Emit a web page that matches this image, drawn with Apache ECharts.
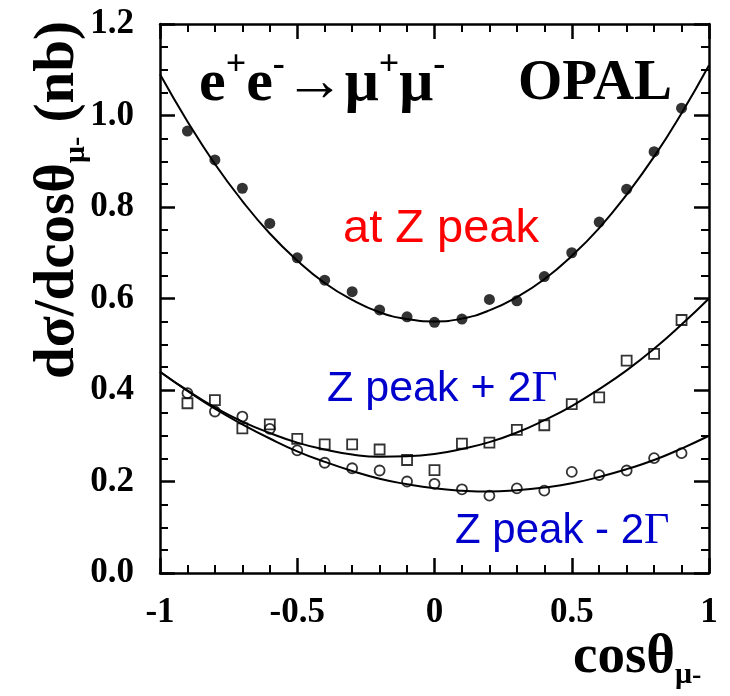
<!DOCTYPE html>
<html>
<head>
<meta charset="utf-8">
<script src="https://cdn.jsdelivr.net/npm/echarts@6/dist/echarts.min.js"></script>
<style>
  html,body{margin:0;padding:0;background:#fff;}
  #main{width:730px;height:696px;}
</style>
</head>
<body>
<div id="main"></div>
<script>
// measured points (cos theta bins)
var ptX = [-0.9,-0.8,-0.7,-0.6,-0.5,-0.4,-0.3,-0.2,-0.1,0,0.1,0.2,0.3,0.4,0.5,0.6,0.7,0.8,0.9];
var zPeak = [0.966,0.903,0.841,0.764,0.689,0.640,0.615,0.575,0.560,0.548,0.555,0.598,0.595,0.648,0.700,0.767,0.839,0.921,1.016];
var zPlus = [0.371,0.378,0.316,0.325,0.293,0.281,0.281,0.270,0.247,0.225,0.283,0.285,0.313,0.323,0.369,0.384,0.464,0.479,0.553];
var zMinus = [0.393,0.353,0.342,0.315,0.268,0.241,0.229,0.224,0.200,0.195,0.183,0.169,0.185,0.180,0.221,0.214,0.224,0.251,0.262];

// fit curves
var fitX = [-1,-0.9,-0.8,-0.7,-0.6,-0.5,-0.4,-0.3,-0.2,-0.1,0,0.1,0.2,0.3,0.4,0.5,0.6,0.7,0.8,0.9,1];
var fitPeak = [1.09,0.987,0.894,0.813,0.742,0.683,0.634,0.597,0.570,0.555,0.550,0.556,0.574,0.603,0.642,0.693,0.754,0.827,0.910,1.005,1.11];
var fitPlus = [0.44,0.399,0.362,0.331,0.306,0.285,0.270,0.259,0.254,0.255,0.260,0.271,0.286,0.307,0.334,0.365,0.402,0.443,0.490,0.543,0.60];
var fitMinus = [0.44,0.398,0.359,0.325,0.294,0.266,0.243,0.223,0.206,0.194,0.185,0.180,0.178,0.181,0.187,0.196,0.210,0.227,0.247,0.272,0.30];

var xTickLabels = {'-1':'-1','-0.5':'-0.5','0':'0','0.5':'0.5','1':'1'};
var yTickLabels = ['0.0','0.2','0.4','0.6','0.8','1.0','1.2'];

function pairs(xs, ys) {
  var out = [];
  for (var i = 0; i < xs.length; i++) out.push([xs[i], ys[i]]);
  return out;
}

var serif = '"Liberation Serif", "DejaVu Serif", serif';
var sans = '"Liberation Sans", Arial, sans-serif';

// axes on their own layer
function xAxisCfg(pos, showLabel) {
  return {
    type: 'value', position: pos, min: -1, max: 1, interval: 0.5, zlevel: 1,
    axisLine: {onZero: false, lineStyle: {color: '#000', width: 2.5}},
    axisTick: {show: true, inside: true, length: 15, lineStyle: {color: '#000', width: 2.5}},
    minorTick: {show: true, splitNumber: 5, length: 8, lineStyle: {color: '#000', width: 2}},
    splitLine: {show: false},
    axisLabel: {
      show: showLabel, margin: 22, color: '#000', fontFamily: serif, fontWeight: 'bold', fontSize: 35,
      formatter: function (v) { return xTickLabels[String(v)]; }
    }
  };
}
function yAxisCfg(pos, showLabel) {
  return {
    type: 'value', position: pos, min: 0, max: 1.2, interval: 0.2, zlevel: 1,
    axisLine: {onZero: false, lineStyle: {color: '#000', width: 2.5}},
    axisTick: {show: true, inside: true, length: 15, lineStyle: {color: '#000', width: 2.5}},
    minorTick: {show: true, splitNumber: 4, length: 8, lineStyle: {color: '#000', width: 2}},
    splitLine: {show: false},
    axisLabel: {
      show: showLabel, margin: 26, color: '#000', fontFamily: serif, fontWeight: 'bold', fontSize: 35,
      formatter: function (v) { return yTickLabels[Math.round(v / 0.2)]; }
    }
  };
}

function fitLine(ys) {
  return {
    type: 'line', data: pairs(fitX, ys), smooth: true, symbol: 'none',
    lineStyle: {color: '#000', width: 2}
  };
}

// text helper for graphic labels
function label(x, y, text, extra) {
  var style = {text: text, align: 'left', verticalAlign: 'middle'};
  for (var k in extra) style[k] = extra[k];
  return {type: 'text', x: x, y: y, zlevel: 2, style: style};
}

var chart = echarts.init(document.getElementById('main'));
chart.setOption({
  animation: false,
  backgroundColor: '#fff',
  grid: {left: 160, right: 21, top: 24, bottom: 123},
  xAxis: [xAxisCfg('bottom', true), xAxisCfg('top', false)],
  yAxis: [yAxisCfg('left', true), yAxisCfg('right', false)],
  series: [
    fitLine(fitPeak),
    fitLine(fitPlus),
    fitLine(fitMinus),
    {
      type: 'scatter', data: pairs(ptX, zPeak), symbol: 'circle', symbolSize: 11,
      itemStyle: {color: '#000'}
    },
    {
      type: 'scatter', data: pairs(ptX, zPlus), symbol: 'rect', symbolSize: 10,
      itemStyle: {color: 'rgba(255,255,255,0)', borderColor: '#000', borderWidth: 1.8}
    },
    {
      type: 'scatter', data: pairs(ptX, zMinus), symbol: 'circle', symbolSize: 10,
      itemStyle: {color: 'rgba(255,255,255,0)', borderColor: '#000', borderWidth: 1.8}
    }
  ],
  graphic: [
    label(199, 84, '{m|e}{s|+}{m|e}{s|-}{m|\u2192\u03bc}{s|+}{m|\u03bc}{s|-}', {
      rich: {
        m: {fontFamily: serif, fontWeight: 'bold', fontSize: 60, lineHeight: 72, fill: '#000', verticalAlign: 'middle'},
        s: {fontFamily: serif, fontWeight: 'bold', fontSize: 36, lineHeight: 14, fill: '#000', verticalAlign: 'top'}
      }
    }),
    label(518, 84, 'OPAL', {fill: '#000', font: 'bold 57px ' + serif}),
    label(343, 229, 'at Z peak', {fill: '#ff0000', font: '47px ' + sans}),
    label(327, 389, '{a|Z peak + 2}{g|\u0393}', {
      rich: {
        a: {fontFamily: sans, fontSize: 43, fill: '#0000cc'},
        g: {fontFamily: serif, fontSize: 45, fill: '#0000cc'}
      }
    }),
    label(455, 531, '{a|Z peak - 2}{g|\u0393}', {
      rich: {
        a: {fontFamily: sans, fontSize: 42, fill: '#0000cc'},
        g: {fontFamily: serif, fontSize: 44, fill: '#0000cc'}
      }
    }),
    {
      // y axis title, reads bottom to top
      type: 'text', x: 58, y: 200, rotation: Math.PI / 2, zlevel: 2,
      style: {
        text: '{m|d\u03c3/dcos\u03b8}{sub|\u03bc}{ss|-}{m| (nb)}',
        align: 'center', verticalAlign: 'middle',
        rich: {
          m: {fontFamily: serif, fontWeight: 'bold', fontSize: 57, lineHeight: 66, fill: '#000', verticalAlign: 'middle'},
          sub: {fontFamily: serif, fontWeight: 'bold', fontSize: 30, lineHeight: 20, fill: '#000', verticalAlign: 'bottom'},
          ss: {fontFamily: serif, fontWeight: 'bold', fontSize: 28, lineHeight: 44, fill: '#000', verticalAlign: 'bottom'}
        }
      }
    },
    label(573, 658, '{m|cos\u03b8}{sub|\u03bc}{ss|-}', {
      rich: {
        m: {fontFamily: serif, fontWeight: 'bold', fontSize: 55, lineHeight: 64, fill: '#000', verticalAlign: 'middle'},
        sub: {fontFamily: serif, fontWeight: 'bold', fontSize: 30, lineHeight: 20, fill: '#000', verticalAlign: 'bottom'},
        ss: {fontFamily: serif, fontWeight: 'bold', fontSize: 28, lineHeight: 44, fill: '#000', verticalAlign: 'bottom'}
      }
    })
  ]
});
</script>
</body>
</html>
